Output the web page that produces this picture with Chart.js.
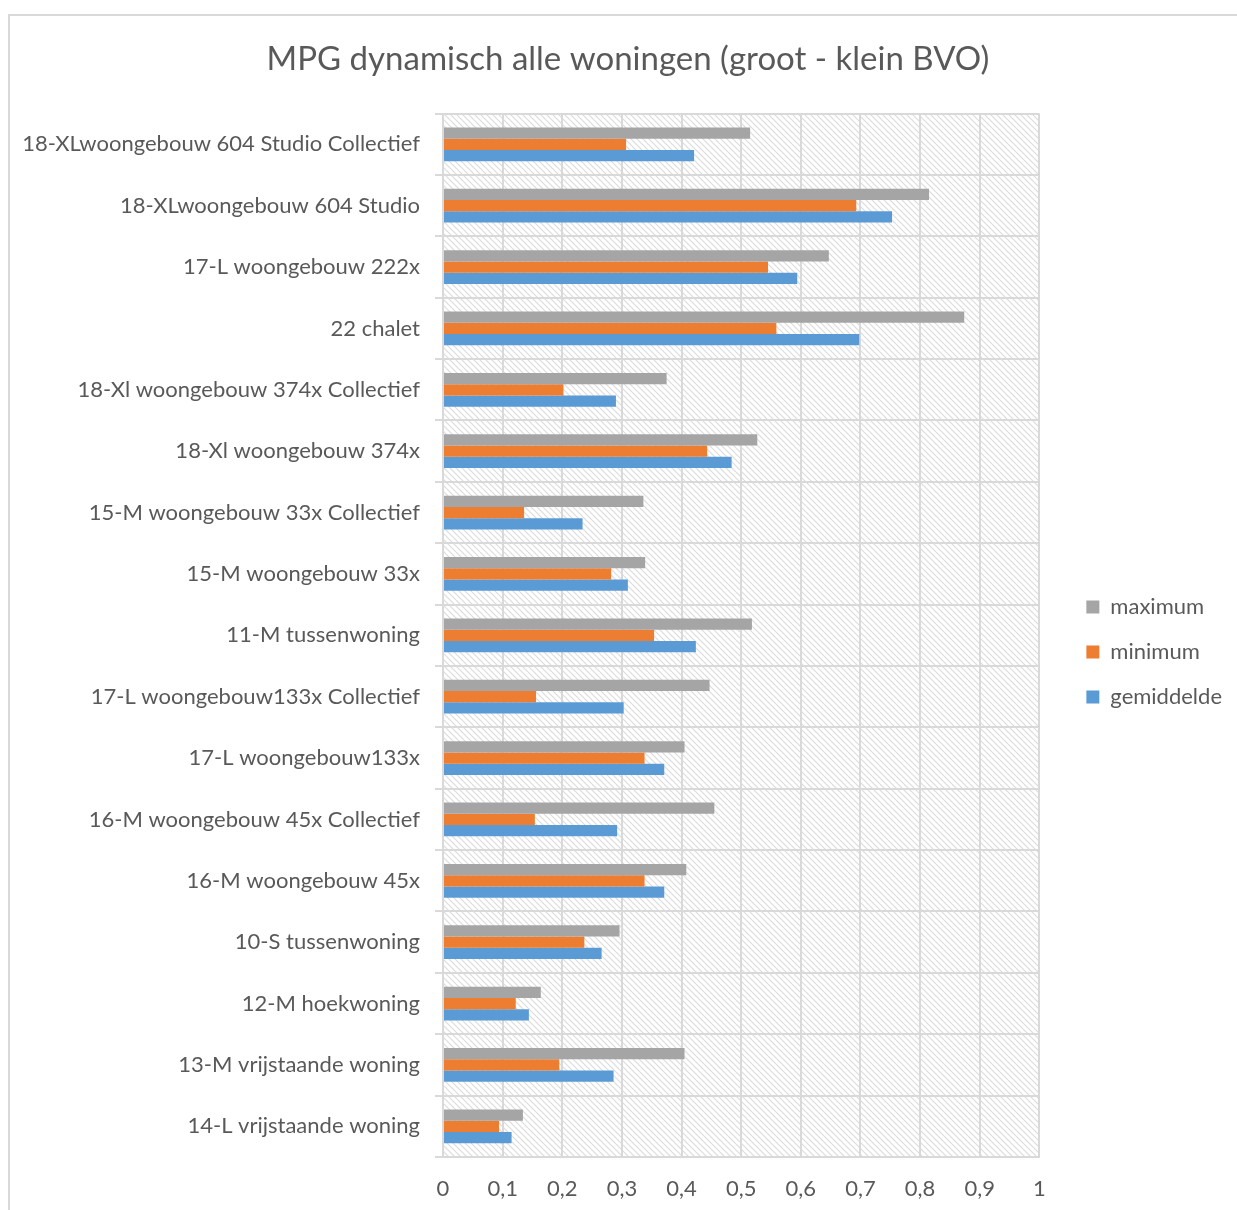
<!DOCTYPE html>
<html>
<head>
<meta charset="utf-8">
<script src="https://cdn.jsdelivr.net/npm/chart.js@4.4.1/dist/chart.umd.min.js"></script>
<style>
  body { margin: 0; background: #fff; }
  #frame { position: absolute; left: 8px; top: 14px; width: 1240px; height: 1210px;
           border-left: 2px solid #d9d9d9; border-top: 2px solid #d9d9d9; }
  #graph { position: absolute; left: 0; top: 0; }
</style>
</head>
<body>
<div id="frame"></div>
<canvas id="graph" width="1237" height="1210"></canvas>
<script>
var categories = [
  '18-XLwoongebouw 604 Studio Collectief',
  '18-XLwoongebouw 604 Studio',
  '17-L woongebouw 222x',
  '22 chalet',
  '18-Xl woongebouw 374x Collectief',
  '18-Xl woongebouw 374x',
  '15-M woongebouw 33x Collectief',
  '15-M woongebouw 33x',
  '11-M tussenwoning',
  '17-L woongebouw133x Collectief',
  '17-L woongebouw133x',
  '16-M woongebouw 45x Collectief',
  '16-M woongebouw 45x',
  '10-S tussenwoning',
  '12-M hoekwoning',
  '13-M vrijstaande woning',
  '14-L vrijstaande woning'
];
var maximum    = [0.515, 0.815, 0.647, 0.874, 0.375, 0.527, 0.336, 0.339, 0.518, 0.447, 0.405, 0.455, 0.408, 0.296, 0.164, 0.405, 0.134];
var minimum    = [0.307, 0.693, 0.545, 0.559, 0.202, 0.443, 0.136, 0.282, 0.354, 0.156, 0.338, 0.154, 0.338, 0.237, 0.122, 0.195, 0.094];
var gemiddelde = [0.421, 0.753, 0.594, 0.698, 0.290, 0.484, 0.234, 0.310, 0.424, 0.303, 0.371, 0.292, 0.371, 0.266, 0.144, 0.286, 0.115];
var xTicks = [0, 0.1, 0.2, 0.3, 0.4, 0.5, 0.6, 0.7, 0.8, 0.9, 1];

var textColor = '#595959';
var gridColor = '#d9d9d9';

var makeHatch = () => {
    var tile = document.createElement('canvas');
    tile.width = 6;
    tile.height = 6;
    var c = tile.getContext('2d');
    c.strokeStyle = '#dcdcdc';
    c.lineWidth = 1.2;
    c.beginPath();
    c.moveTo(0, 0); c.lineTo(6, 6);
    c.moveTo(-1, 5); c.lineTo(1, 7);
    c.moveTo(5, -1); c.lineTo(7, 1);
    c.stroke();
    return tile;
};

var hatchPlugin = {
    id: 'hatch',
    beforeDraw: (chart) => {
        var a = chart.chartArea;
        var ctx = chart.ctx;
        ctx.save();
        ctx.fillStyle = ctx.createPattern(makeHatch(), 'repeat');
        ctx.fillRect(a.left, a.top, a.right - a.left, a.bottom - a.top);
        ctx.restore();
    }
};

// Excel puts the legend a bit further from the plot and lower,
// and centres the title slightly right of the canvas middle
var layoutNudge = {
    id: 'layoutNudge',
    afterLayout: (chart) => {
        var lg = chart.legend;
        lg.left += 24; lg.right += 24;
        lg.top += 47; lg.bottom += 47;
        var t = chart.titleBlock;
        t.left += 19; t.right += 19;
    }
};

var fmt = (v) => {
    var r = Math.round(v * 10) / 10;
    return String(r).replace('.', ',');
};

Chart.defaults.font.family = 'Lato, "Open Sans", sans-serif';
Chart.defaults.color = textColor;

new Chart(document.getElementById('graph'), {
    type: 'bar',
    data: {
        labels: categories,
        datasets: [
            { label: 'maximum', data: maximum, backgroundColor: '#a5a5a5' },
            { label: 'minimum', data: minimum, backgroundColor: '#ed7d31' },
            { label: 'gemiddelde', data: gemiddelde, backgroundColor: '#5b9bd5' }
        ]
    },
    options: {
        indexAxis: 'y',
        responsive: false,
        animation: false,
        categoryPercentage: 0.55,
        barPercentage: 1,
        layout: { padding: { left: 10, right: 29, top: 0, bottom: 0 } },
        plugins: {
            title: {
                display: true,
                text: 'MPG dynamisch alle woningen (groot - klein BVO)',
                color: textColor,
                font: { size: 33, weight: 'normal' },
                padding: { top: 40, bottom: 34 }
            },
            legend: {
                position: 'right',
                labels: {
                    boxWidth: 13,
                    boxHeight: 13,
                    padding: 23,
                    color: textColor,
                    font: { size: 22 }
                }
            },
            tooltip: { enabled: false }
        },
        scales: {
            x: {
                type: 'linear',
                min: 0,
                max: 1,
                afterBuildTicks: (s) => { s.ticks = xTicks.map((v) => ({ value: v })); },
                afterFit: (s) => { s.height = 53; },
                grid: { color: gridColor, lineWidth: 2, drawTicks: false },
                border: { color: gridColor, width: 2 },
                ticks: { padding: 19, font: { size: 22 }, color: textColor, callback: fmt }
            },
            y: {
                afterFit: (s) => { s.width = 443 - 10; },
                grid: { color: gridColor, lineWidth: 2, tickLength: 8, offset: true },
                border: { color: gridColor, width: 2 },
                ticks: { padding: 15, font: { size: 22 }, color: textColor }
            }
        }
    },
    plugins: [hatchPlugin, layoutNudge]
});
</script>
</body>
</html>
